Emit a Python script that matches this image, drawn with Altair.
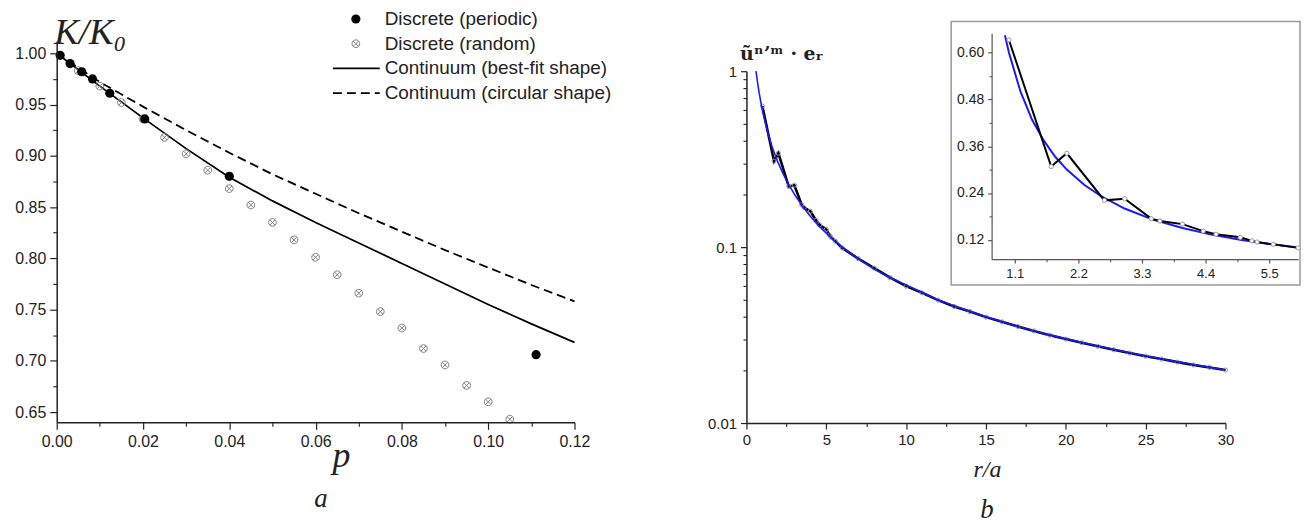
import altair as alt
import pandas as pd

# ---------------- panel a data ----------------
p_periodic = [0.0008, 0.0031, 0.0058, 0.0083, 0.0123, 0.0204, 0.0400, 0.1111]
K_periodic = [0.998, 0.990, 0.982, 0.975, 0.961, 0.936, 0.880, 0.706]

p_random = [0.005, 0.010, 0.015, 0.020, 0.025, 0.030, 0.035, 0.040, 0.045, 0.050, 0.055,
            0.060, 0.065, 0.070, 0.075, 0.080, 0.085, 0.090, 0.095, 0.100, 0.105]
K_random = [0.983, 0.968, 0.952, 0.936, 0.918, 0.902, 0.886, 0.868, 0.852, 0.835, 0.818,
            0.801, 0.784, 0.766, 0.748, 0.732, 0.712, 0.696, 0.676, 0.660, 0.643]

p_curve = [0.00, 0.01, 0.02, 0.03, 0.04, 0.05, 0.06, 0.07, 0.08, 0.09, 0.10, 0.11, 0.12]
K_bestfit = [1.000, 0.968, 0.937, 0.907, 0.879, 0.856, 0.835, 0.815, 0.795, 0.775, 0.755, 0.736, 0.718]
K_circular = [1.000, 0.972, 0.948, 0.925, 0.903, 0.882, 0.863, 0.844, 0.826, 0.808, 0.791, 0.774, 0.758]

legend_labels = ["Discrete (periodic)", "Discrete (random)",
                 "Continuum (best-fit shape)", "Continuum (circular shape)"]

# ---------------- panel b data ----------------
r_fit = [0.6, 0.7, 0.8, 0.93, 1.0, 1.2, 1.4, 1.6, 1.8, 2.0, 2.3, 2.6, 3.0, 3.5, 4.0, 4.5, 5.0,
         5.5, 6.0, 7.0, 8.0, 9.0, 10.0, 12.0, 14.0, 16.0, 18.0, 20.0, 22.0, 24.0, 26.0, 28.0, 30.0]
u_fit = [1.00, 0.857, 0.750, 0.645, 0.600, 0.500, 0.428, 0.375, 0.333, 0.300, 0.261, 0.231, 0.200,
         0.171, 0.150, 0.133, 0.120, 0.109, 0.100, 0.086, 0.075, 0.067, 0.061, 0.050, 0.043,
         0.0377, 0.0334, 0.0301, 0.0274, 0.0251, 0.0231, 0.0215, 0.0200]

r_disc = [1.0, 1.73, 2.0, 2.65, 3.0, 3.46, 3.61, 4.0, 4.36, 4.58, 5.0, 5.2, 5.29, 5.57, 6.0,
          7.0, 8.0, 9.0, 10.0, 11.0, 12.0, 13.0, 14.0, 15.0, 16.0, 17.0, 18.0, 19.0, 20.0,
          21.0, 22.0, 23.0, 24.0, 25.0, 26.0, 27.0, 28.0, 29.0, 30.0]
u_disc = [0.633, 0.308, 0.342, 0.221, 0.225, 0.174, 0.168, 0.160, 0.142, 0.134, 0.126, 0.117,
          0.114, 0.108, 0.099, 0.086, 0.076, 0.067, 0.060, 0.055, 0.050, 0.046, 0.043, 0.040,
          0.0376, 0.0354, 0.0334, 0.0316, 0.0300, 0.0286, 0.0273, 0.0261, 0.0250, 0.0240,
          0.0231, 0.0222, 0.0214, 0.0207, 0.0200]

a_xticks = [0.00, 0.02, 0.04, 0.06, 0.08, 0.10, 0.12]
a_xminor = [0.01, 0.03, 0.05, 0.07, 0.09, 0.11]
a_yticks = [0.65, 0.70, 0.75, 0.80, 0.85, 0.90, 0.95, 1.00]
a_yminor = [0.675, 0.725, 0.775, 0.825, 0.875, 0.925, 0.975]
b_xticks = [0, 5, 10, 15, 20, 25, 30]
b_xminor = [2.5, 7.5, 12.5, 17.5, 22.5, 27.5]
b_yticks = [0.01, 0.1, 1]
b_yminor = [0.02, 0.03, 0.04, 0.05, 0.06, 0.07, 0.08, 0.09, 0.2, 0.3, 0.4, 0.5, 0.6, 0.7, 0.8, 0.9]
i_xticks = [1.1, 2.2, 3.3, 4.4, 5.5]
i_xminor = [1.65, 2.75, 3.85, 4.95]
i_yticks = [0.12, 0.24, 0.36, 0.48, 0.60]
i_yminor = [0.18, 0.30, 0.42, 0.54]

# ---------------- layout / style ----------------
W, H = 1302, 519
SANS = "Liberation Sans"
SERIF = "Liberation Serif"
INK = "#222222"

df_per = pd.DataFrame({"p": p_periodic, "K": K_periodic})
df_ran = pd.DataFrame({"p": p_random, "K": K_random})
df_cur = pd.DataFrame({"p": p_curve, "Kb": K_bestfit, "Kc": K_circular})
df_fit = pd.DataFrame({"r": r_fit, "u": u_fit})
df_dis = pd.DataFrame({"r": r_disc, "u": u_disc})
df_leg = pd.DataFrame({"label": legend_labels, "row": [0, 1, 2, 3]})
df_one = pd.DataFrame({"k": [0]})

CROSS = ("M-1,0A1,1,0,1,0,1,0A1,1,0,1,0,-1,0Z"
         "M-0.7071,-0.7071L0.7071,0.7071M-0.7071,0.7071L0.7071,-0.7071")


def major(orient, offset, values, fmt, fs, tick, dwidth=1.5, dcolor=INK, **kw):
    return alt.Axis(orient=orient, offset=offset, values=values, format=fmt,
                    labelFont=SANS, labelFontSize=fs, labelColor=INK, labelPadding=4,
                    labelFlush=False, labelOverlap=False, tickSize=tick, tickColor=dcolor,
                    tickWidth=1.2, domainColor=dcolor, domainWidth=dwidth, grid=False,
                    zindex=2, **kw)


def minor(orient, offset, values, tick, dcolor=INK):
    return alt.Axis(orient=orient, offset=offset, values=values, labels=False, domain=False,
                    tickSize=tick, tickColor=dcolor, tickWidth=1.1, grid=False, title=None,
                    zindex=2)


# ---------------- panel a ----------------
xa = alt.Scale(domain=[0, 0.12], range=[49, 570], nice=False, zero=False)
ya = alt.Scale(domain=[0.64, 1.012], range=[415.3, 31.6], nice=False, zero=False)
xa_off, ya_off = 415.3 - H, -49

xa_major = major("bottom", xa_off, a_xticks, ".2f", 16, 7,
                 title="p", titleFont=SERIF, titleFontSize=36, titleFontStyle="italic",
                 titleFontWeight="normal", titleColor=INK, titleX=335, titleY=44,
                 titleAlign="center", titleBaseline="alphabetic")
ya_major = major("left", ya_off, a_yticks, ".2f", 16, 7,
                 title="K/K₀", titleFont=SERIF, titleFontSize=37, titleFontStyle="italic",
                 titleFontWeight="normal", titleColor=INK, titleAngle=0, titleX=-3, titleY=34,
                 titleAlign="left", titleBaseline="alphabetic")

solid = alt.Chart(df_cur).mark_line(color="black", strokeWidth=1.8).encode(
    x=alt.X("p:Q", scale=xa, axis=xa_major),
    y=alt.Y("Kb:Q", scale=ya, axis=ya_major))
dashed = alt.Chart(df_cur).mark_line(color="black", strokeWidth=1.8, strokeDash=[9, 5]).encode(
    x=alt.X("p:Q", scale=xa, axis=minor("bottom", xa_off, a_xminor, 4)),
    y=alt.Y("Kc:Q", scale=ya, axis=minor("left", ya_off, a_yminor, 4)))
rand = alt.Chart(df_ran).mark_point(shape=CROSS, size=60, filled=False, color="#808080",
                                    strokeWidth=1, opacity=1).encode(
    x=alt.X("p:Q", scale=xa, axis=None), y=alt.Y("K:Q", scale=ya, axis=None))
peri = alt.Chart(df_per).mark_circle(size=85, color="black", opacity=1).encode(
    x=alt.X("p:Q", scale=xa, axis=None), y=alt.Y("K:Q", scale=ya, axis=None))

panel_a = alt.layer(solid, dashed, rand, peri).resolve_axis(x="independent", y="independent")

# ---------------- legend of panel a ----------------
rowscale = alt.Scale(domain=[0, 3], range=[9.5, 84], nice=False, zero=False)
yrow = alt.Y("row:Q", scale=rowscale, axis=None)
leg_text = alt.Chart(df_leg).mark_text(align="left", baseline="middle", font=SANS,
                                       fontSize=19, color=INK).encode(
    x=alt.value(379), y=yrow, text="label:N")
leg_p = alt.Chart(df_leg).transform_filter("datum.row == 0").mark_circle(
    size=85, color="black", opacity=1).encode(x=alt.value(350), y=yrow)
leg_r = alt.Chart(df_leg).transform_filter("datum.row == 1").mark_point(
    shape=CROSS, size=60, filled=False, color="#808080", strokeWidth=1, opacity=1).encode(
    x=alt.value(350), y=yrow)
leg_s = alt.Chart(df_leg).transform_filter("datum.row == 2").mark_rule(
    color="black", strokeWidth=1.8).encode(x=alt.value(327), x2=alt.value(374), y=yrow)
leg_d = alt.Chart(df_leg).transform_filter("datum.row == 3").mark_rule(
    color="black", strokeWidth=1.8, strokeDash=[9, 5]).encode(
    x=alt.value(327), x2=alt.value(374), y=yrow)
legend = alt.layer(leg_text, leg_p, leg_r, leg_s, leg_d)

# ---------------- panel b main ----------------
xb = alt.Scale(domain=[0, 30], range=[743, 1225], nice=False, zero=False)
yb = alt.Scale(type="log", domain=[0.01, 1], range=[416, 62], nice=False)
xb_off, yb_off = 416 - H, -743

xb_major = major("bottom", xb_off, b_xticks, "d", 15, 6,
                 title="r/a", titleFont=SERIF, titleFontSize=24, titleFontStyle="italic",
                 titleFontWeight="normal", titleColor=INK, titleX=985, titleY=54,
                 titleAlign="center", titleBaseline="alphabetic")
yb_major = major("left", yb_off, b_yticks, "~g", 15, 6,
                 title="ũⁿʼᵐ · eᵣ", titleFont="DejaVu Serif", titleFontSize=19,
                 titleFontWeight="bold", titleColor=INK, titleAngle=0, titleX=-7, titleY=50,
                 titleAlign="left", titleBaseline="alphabetic")

b_black = alt.Chart(df_dis).mark_line(color="black", strokeWidth=2.6).encode(
    x=alt.X("r:Q", scale=xb, axis=xb_major), y=alt.Y("u:Q", scale=yb, axis=yb_major))
b_pts = alt.Chart(df_dis).mark_point(shape="circle", size=18, filled=False, color="#9a9a9a",
                                     strokeWidth=1, opacity=1).encode(
    x=alt.X("r:Q", scale=xb, axis=None), y=alt.Y("u:Q", scale=yb, axis=None))
b_blue = alt.Chart(df_fit).mark_line(color="#1a1aff", strokeWidth=1.6).encode(
    x=alt.X("r:Q", scale=xb, axis=minor("bottom", xb_off, b_xminor, 3.5)),
    y=alt.Y("u:Q", scale=yb, axis=minor("left", yb_off, b_yminor, 3.5)))
panel_b = alt.layer(b_black, b_pts, b_blue).resolve_axis(x="independent", y="independent")

# ---------------- inset ----------------
frame = alt.Chart(df_one).mark_rect(fill="white", stroke="#9a9a9a", strokeWidth=1.5).encode(
    x=alt.value(949), x2=alt.value(1300), y=alt.value(12), y2=alt.value(277))

xi = alt.Scale(domain=[0.7, 6.0], range=[989.7, 1298.1], nice=False, zero=False)
yi = alt.Scale(domain=[0.07, 0.65], range=[251.1, 23.9], nice=False, zero=False)
xi_off, yi_off = 251.1 - H, -989.7
GRAY = "#555555"

i_blue = alt.Chart(df_fit).transform_filter("datum.r >= 0.93 && datum.r <= 6").mark_line(
    color="#1a1aff", strokeWidth=2).encode(
    x=alt.X("r:Q", scale=xi, axis=major("bottom", xi_off, i_xticks, ".1f", 13, 4,
                                         dwidth=1.2, dcolor=GRAY, title=None)),
    y=alt.Y("u:Q", scale=yi, axis=major("left", yi_off, i_yticks, ".2f", 14, 4,
                                         dwidth=1.2, dcolor=GRAY, title=None)))
i_black = alt.Chart(df_dis).transform_filter("datum.r <= 6").mark_line(
    color="black", strokeWidth=2).encode(
    x=alt.X("r:Q", scale=xi, axis=minor("bottom", xi_off, i_xminor, 2.5, GRAY)),
    y=alt.Y("u:Q", scale=yi, axis=minor("left", yi_off, i_yminor, 2.5, GRAY)))
i_pts = alt.Chart(df_dis).transform_filter("datum.r <= 6").mark_point(
    shape="circle", size=18, filled=True, fill="white", stroke="#9a9a9a", strokeWidth=1,
    opacity=1).encode(
    x=alt.X("r:Q", scale=xi, axis=None), y=alt.Y("u:Q", scale=yi, axis=None))
inset = alt.layer(i_blue, i_black, i_pts).resolve_axis(x="independent", y="independent")

# ---------------- panel letters ----------------
lab_a = alt.Chart(df_one).mark_text(text="a", font=SERIF, fontSize=27, fontStyle="italic",
                                    align="center", baseline="alphabetic", color=INK).encode(
    x=alt.value(315), y=alt.value(500))
lab_b = alt.Chart(df_one).mark_text(text="b", font=SERIF, fontSize=27, fontStyle="italic",
                                    align="center", baseline="alphabetic", color=INK).encode(
    x=alt.value(985), y=alt.value(512))

chart = alt.layer(panel_a, legend, panel_b, frame, inset, lab_a, lab_b).resolve_scale(
    x="independent", y="independent").resolve_axis(
    x="independent", y="independent").properties(
    width=W, height=H, autosize=alt.AutoSizeParams(type="none"), padding=0,
    background="white").configure_view(strokeWidth=0)

chart.save("out.html", embed_options={"renderer": "svg", "actions": False})
